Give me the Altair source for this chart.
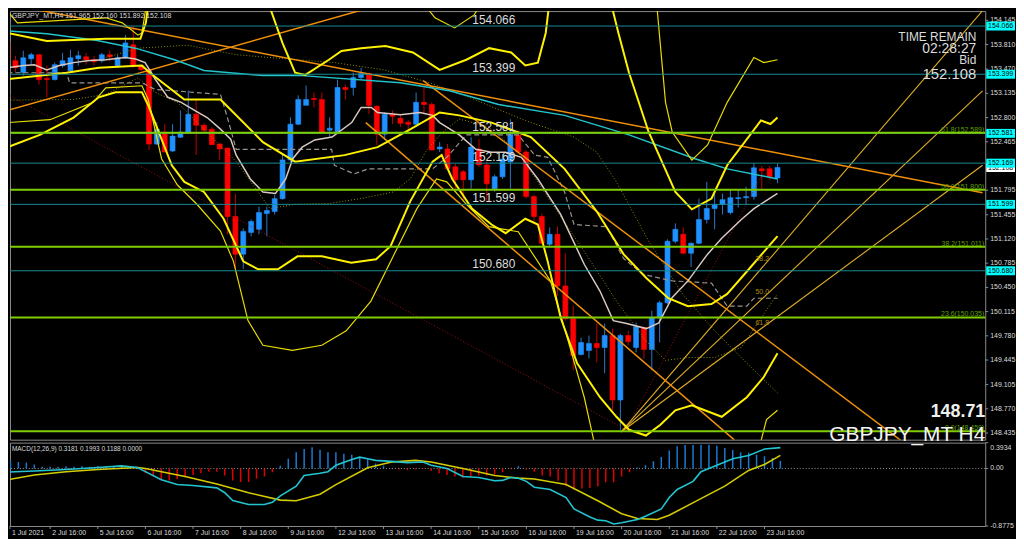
import altair as alt
import pandas as pd

# ---------------- candles (GBPJPY H4, bar index 0..98) ----------------
bar_open = [153.833, 153.586, 153.422, 153.614, 153.669, 153.339, 153.325, 153.518, 153.449, 153.614,
            153.641, 153.600, 153.586, 153.669, 153.518, 153.627, 153.806, 153.518, 153.463, 152.433,
            152.598, 152.337, 152.529, 152.598, 152.845, 152.694, 152.639, 152.433, 152.378, 151.431,
            150.910, 151.211, 151.253, 151.472, 151.500, 151.678, 152.214, 152.708, 152.969, 153.065,
            153.051, 152.625, 152.598, 153.216, 153.216, 153.353, 153.408, 152.955, 152.570, 152.845,
            152.790, 152.735, 152.708, 153.010, 152.982, 152.365, 152.365, 152.118, 152.049, 151.939,
            152.365, 152.145, 151.816, 151.980, 152.186, 152.557, 152.323, 151.706, 151.431, 151.047,
            151.184, 150.470, 150.017, 149.523, 149.578, 149.674, 149.619, 149.784, 148.892, 149.784,
            149.619, 149.894, 149.592, 150.031, 150.237, 151.088, 151.184, 150.923, 151.060, 151.390,
            151.541, 151.596, 151.486, 151.678, 151.692, 151.706, 152.090, 152.090, 151.965]
bar_high = [153.875, 153.655, 153.724, 153.696, 153.682, 153.518, 153.559, 153.696, 153.737, 153.724,
            153.696, 153.655, 153.696, 153.724, 153.669, 153.943, 154.067, 153.531, 153.477, 152.735,
            152.708, 152.708, 152.900, 153.175, 153.051, 152.721, 152.667, 152.447, 152.378, 151.747,
            151.266, 151.390, 151.568, 151.568, 151.733, 152.282, 152.804, 153.106, 153.243, 153.147,
            153.147, 152.804, 153.325, 153.257, 153.422, 153.490, 153.422, 152.969, 152.872, 152.900,
            152.831, 152.763, 153.147, 153.216, 153.010, 152.461, 152.433, 152.159, 152.076, 152.529,
            152.502, 152.186, 152.008, 152.296, 152.776, 152.625, 152.351, 151.733, 151.472, 151.280,
            151.294, 150.923, 150.196, 149.756, 149.784, 149.949, 149.949, 149.880, 149.811, 149.853,
            149.962, 149.907, 150.128, 150.264, 151.115, 151.335, 151.280, 151.074, 151.678, 151.912,
            151.802, 151.747, 151.802, 151.802, 151.843, 152.172, 152.131, 152.131, 152.160]
bar_low = [153.559, 153.422, 153.380, 153.518, 153.257, 153.078, 153.312, 153.490, 153.449, 153.518,
           153.531, 153.518, 153.559, 153.586, 153.490, 153.614, 153.490, 153.449, 152.351, 152.420,
           152.323, 152.323, 152.516, 152.584, 152.282, 152.598, 152.420, 152.214, 151.184, 150.704,
           150.704, 151.156, 151.184, 151.156, 151.459, 151.664, 152.186, 152.694, 152.969, 152.941,
           152.598, 152.529, 152.570, 153.051, 153.106, 153.325, 152.845, 152.420, 152.488, 152.708,
           152.667, 152.598, 152.694, 152.845, 152.351, 152.323, 152.076, 151.816, 151.637, 151.816,
           152.118, 151.637, 151.774, 151.953, 151.816, 152.296, 151.678, 151.363, 151.047, 151.019,
           150.333, 149.990, 149.303, 149.509, 149.468, 149.413, 149.262, 148.754, 148.480, 149.647,
           149.551, 149.468, 149.303, 149.688, 150.223, 151.060, 150.910, 150.731, 151.047, 151.335,
           151.253, 151.459, 151.459, 151.555, 151.596, 151.664, 151.802, 151.939, 151.892]
bar_close = [153.586, 153.490, 153.627, 153.669, 153.325, 153.325, 153.531, 153.586, 153.627, 153.655,
             153.600, 153.573, 153.669, 153.641, 153.627, 153.833, 153.518, 153.463, 152.433, 152.639,
             152.323, 152.543, 152.598, 152.845, 152.694, 152.625, 152.425, 152.365, 151.431, 150.910,
             151.225, 151.363, 151.486, 151.514, 151.678, 152.214, 152.708, 153.051, 153.051, 153.051,
             152.598, 152.653, 153.216, 153.188, 153.353, 153.408, 152.969, 152.570, 152.845, 152.817,
             152.721, 152.708, 153.010, 152.982, 152.351, 152.392, 152.090, 151.939, 151.939, 152.392,
             152.145, 151.884, 151.980, 152.227, 152.570, 152.323, 151.706, 151.431, 151.060, 151.184,
             150.470, 150.017, 149.509, 149.688, 149.674, 149.619, 149.784, 148.892, 149.784, 149.702,
             149.907, 149.592, 150.031, 150.237, 151.088, 151.253, 150.923, 151.060, 151.390, 151.541,
             151.596, 151.664, 151.692, 151.692, 151.706, 152.104, 152.063, 151.980, 152.108]

# ---------------- MACD(12,26,9) ----------------
macd_hist = [0.139, 0.118, 0.097, 0.089, 0.059, 0.025, 0.025, 0.025, 0.035, 0.025,
             0.035, 0.025, 0.035, 0.025, 0.035, 0.039, 0.025, 0.002, -0.075, -0.124,
             -0.173, -0.183, -0.163, -0.124, -0.099, -0.075, -0.049, -0.049, -0.109, -0.183,
             -0.208, -0.208, -0.158, -0.124, -0.059, 0.040, 0.148, 0.247, 0.297, 0.322,
             0.287, 0.247, 0.247, 0.223, 0.208, 0.173, 0.139, 0.075, 0.040, 0.005,
             -0.015, -0.025, -0.015, -0.010, -0.040, -0.075, -0.099, -0.124, -0.139, -0.124,
             -0.109, -0.109, -0.089, -0.059, -0.010, 0.035, -0.015, -0.049, -0.109, -0.124,
             -0.188, -0.272, -0.322, -0.307, -0.297, -0.272, -0.212, -0.212, -0.124, -0.059,
             0.015, 0.049, 0.109, 0.173, 0.272, 0.337, 0.356, 0.356, 0.361, 0.361,
             0.346, 0.311, 0.282, 0.247, 0.238, 0.208, 0.188, 0.160, 0.1188]
macd_x = [0, 4, 8, 12, 15, 17, 18, 20, 22, 24, 27, 28, 29, 31, 33, 34, 35, 37, 38, 40, 41, 42, 44, 45,
          46, 47, 49, 51, 53, 54, 56, 58, 60, 62, 63, 64, 65, 66, 67, 69, 71, 72, 74, 75, 76, 77, 78,
          80, 81, 83, 84, 85, 87, 88, 90, 92, 94, 96, 98]
macd_v = [-0.059, -0.039, -0.015, 0.015, 0.039, 0.015, -0.049, -0.172, -0.246, -0.261, -0.296, -0.37,
          -0.49, -0.55, -0.55, -0.517, -0.419, -0.271, -0.108, -0.074, -0.049, 0.049, 0.138, 0.172,
          0.148, 0.123, 0.108, 0.089, 0.099, 0.049, 0.0, -0.123, -0.138, -0.187, -0.182, -0.138,
          -0.148, -0.197, -0.286, -0.32, -0.443, -0.616, -0.739, -0.788, -0.798, -0.847, -0.828,
          -0.778, -0.729, -0.616, -0.443, -0.32, -0.197, -0.049, 0.049, 0.148, 0.197, 0.296, 0.3181]
signal_x = [0, 4, 8, 12, 17, 18, 23, 27, 31, 35, 37, 40, 42, 46, 49, 52, 54, 58, 62, 65, 67, 71, 75,
            78, 80, 82.5, 84, 87.5, 91, 94, 96, 98]
signal_v = [-0.187, -0.099, -0.049, -0.015, 0.015, 0.0, -0.123, -0.236, -0.37, -0.483, -0.493, -0.394,
            -0.246, 0.01, 0.099, 0.123, 0.099, 0.0, -0.108, -0.148, -0.16, -0.246, -0.493, -0.69,
            -0.764, -0.778, -0.714, -0.49, -0.27, -0.03, 0.06, 0.1993]

# ---------------- indicator traces: (bar index list, price list) ----------------
cyan_ma = ([0, 5, 11.25, 16.25, 21.25, 25, 32.5, 37.5, 50, 56.25, 62.5, 70.9, 79.1, 87.5, 91.6, 98],
           [154.00, 153.96, 153.87, 153.76, 153.60, 153.45, 153.38, 153.38, 153.28, 153.17, 152.98,
            152.83, 152.56, 152.23, 152.09, 151.95])
white_ma = ([0, 2.1, 3.4, 5, 6.6, 8.4, 10.4, 12.5, 15, 16.3, 17.5, 18.8, 20.4, 22.1, 23.8, 25.4, 27.1,
             28.4, 29.1, 30.9, 32.5, 34.1, 35.4, 36.3, 37.5, 39.1, 41.3, 43.8, 45, 46.3, 47.1, 50, 52.5,
             54.1, 55, 57.5, 59.6, 61.6, 63.4, 65.4, 67.5, 70.4, 73.4, 75.4, 77.1, 78.8, 81.3, 82.9,
             84.6, 86.6, 89.1, 90.9, 93.4, 95, 98],
            [153.49, 153.52, 153.53, 153.46, 153.52, 153.56, 153.59, 153.60, 153.63, 153.61, 153.56,
             153.33, 153.08, 153.01, 152.90, 152.80, 152.64, 152.50, 152.28, 151.95, 151.77, 151.75,
             151.95, 152.23, 152.39, 152.49, 152.53, 152.73, 152.94, 152.94, 152.87, 152.84, 152.87,
             152.83, 152.73, 152.56, 152.36, 152.32, 152.32, 152.25, 151.95, 151.46, 150.77, 150.40,
             149.99, 149.95, 149.88, 149.96, 150.31, 150.54, 150.91, 151.13, 151.39, 151.54, 151.75])
bands_thick = {
    "t1": ([0, 5, 12.5, 16.9, 17.6, 18.1],
           [153.97, 153.86, 153.89, 153.89, 154.11, 154.52]),
    "t2": ([32.75, 35, 36.6, 37.9, 40.9, 42.5, 45, 48.1, 51.6, 55, 58.4, 61.3, 64.1, 65.9, 67.5, 68.5, 69.1],
           [154.52, 153.83, 153.42, 153.39, 153.60, 153.72, 153.76, 153.79, 153.70, 153.46, 153.60,
            153.76, 153.70, 153.52, 153.56, 153.97, 154.52]),
    "t3": ([76.5, 77.75, 79.1, 81.6, 85, 87.1, 89.6, 91.6, 95.9, 97.1, 98],
           [154.52, 153.97, 153.42, 152.60, 151.77, 151.53, 151.68, 152.14, 152.76, 152.71, 152.80]),
    "t4": ([0, 7.5, 11.6, 17.1, 18.1, 22.5, 27.1, 32.5, 36.6, 42.9, 47.1, 51.3, 55, 57.5, 61.6, 66.6,
            70.9, 75, 78.4, 81.3, 84.1, 86.6, 89.6, 91.6, 94.1, 98],
           [153.33, 153.42, 153.49, 153.52, 153.42, 153.05, 153.05, 152.46, 152.19, 152.28, 152.39,
            152.64, 152.87, 152.83, 152.73, 152.53, 152.09, 151.50, 150.91, 150.58, 150.30, 150.19,
            150.22, 150.36, 150.67, 151.16]),
    "t5": ([0, 4.1, 8.4, 11.6, 13.75, 17.1, 17.9, 20.9, 22.5, 25, 27.5, 30, 31.9, 34.4, 36.9, 40, 43.75,
            46.9, 48.75, 51.25, 54.1, 55.25, 56.6, 59.1, 61.6, 63.4, 65.9, 67.5, 68.75, 70.4, 72.5, 75.4,
            77.5, 79.1, 81.25, 83.1, 85, 87.1, 90.9, 94.1, 96.25, 98],
           [152.39, 152.56, 152.80, 153.08, 153.15, 153.15, 152.97, 152.14, 151.91, 151.77, 151.40,
            150.81, 150.70, 150.70, 150.88, 150.88, 150.79, 150.84, 151.02, 151.64, 152.19, 152.28,
            151.95, 151.54, 151.32, 151.20, 151.40, 151.32, 150.81, 150.03, 149.40, 148.93, 148.66,
            148.48, 148.40, 148.55, 148.75, 148.82, 148.66, 148.93, 149.21, 149.54]),
}
bands_thin = {
    "u1": ([0, 1.25, 12.5, 14.6, 16.6, 17.1, 17.9],
           [154.27, 154.11, 154.18, 154.11, 153.94, 153.97, 154.52]),
    "u2": ([51.9, 54.4, 56.9, 59.4, 61], [154.52, 154.18, 154.04, 154.22, 154.52]),
    "u3": ([82.5, 83.75, 84.6, 87.1, 89.1, 91.6, 95, 96.25, 98],
           [154.52, 153.01, 152.60, 152.21, 152.42, 153.01, 153.63, 153.56, 153.60]),
    "l1": ([0, 5.4, 10.9, 12.5, 17.1, 17.9, 19.6, 21.6, 24.1, 27.1, 28.75, 30.6, 32.5, 36.25, 40, 43.1,
            46.25, 49.4, 52.1, 54.6, 55.9, 58.4, 61.25, 65, 69.1, 71.25, 73.4, 74.6, 75],
           [152.73, 152.77, 153.01, 153.21, 153.24, 153.05, 152.23, 151.87, 151.60, 151.23, 150.81,
            149.99, 149.65, 149.58, 149.65, 149.85, 150.26, 150.95, 151.54, 151.95, 151.91, 151.60,
            151.29, 151.22, 150.54, 149.75, 148.93, 148.34, 148.07]),
    "l2": ([95.6, 96.6, 98], [148.20, 148.62, 148.75]),
}
gray_step = ([0, 7.5, 7.9, 17.1, 18.75, 27.1, 27.9, 29.1, 41.25, 41.6, 44.1, 45.9, 54.1, 55.9, 58.4, 65,
              67.1, 68.75, 70.9, 72.1, 76.25, 78.4, 80.9, 84.6, 89.6, 91.6, 94.1, 95, 98],
             [153.42, 153.42, 153.28, 153.28, 153.19, 153.12, 152.83, 152.36, 152.36, 152.14, 152.02,
              152.09, 152.09, 152.25, 152.56, 152.56, 152.28, 152.25, 151.77, 151.32, 151.29, 150.85,
              150.63, 150.54, 150.51, 150.19, 150.19, 150.30, 150.30])
olive_dots = {
    "d1": ([12.5, 16.6, 22.9, 29.1, 33.4, 41.6, 47.9, 53.75, 58.75, 62.5, 66.6, 72.1, 75, 77.5, 81.6,
            85.9, 90, 94.1, 98],
           [153.63, 153.76, 153.80, 153.67, 153.63, 153.56, 153.46, 153.28, 153.08, 152.91, 152.73,
            152.53, 152.32, 151.91, 151.09, 150.36, 149.85, 149.40, 148.99]),
    "d2": ([0, 8.4, 12.5, 16.6, 18.75, 21.6, 29.1, 33.4, 36.6, 40.9, 45, 49.1, 51.25, 53.4, 55.4, 57.5,
            61.25, 65, 69.1, 73.4, 77.5, 81.25, 83.75, 86.6, 90, 93.4, 98],
           [153.04, 153.05, 153.12, 153.35, 153.15, 153.01, 152.19, 151.54, 151.60, 151.61, 151.68,
            151.77, 151.95, 152.36, 152.60, 152.78, 152.67, 152.32, 151.64, 150.95, 150.26, 149.71,
            149.44, 149.48, 149.48, 149.62, 150.36]),
}
trend_orange = {
    "o1": ([0, 52], [152.90, 154.50]),
    "o2": ([0, 124.1], [154.37, 151.76]),
    "o3": ([52.9, 114.1], [153.31, 148.30]),
    "o4": ([45.6, 92.5], [152.73, 148.34]),
}
trend_red = {
    "r1": ([0, 78.75], [153.12, 148.48]),
    "r2": ([78.75, 96.25], [148.48, 152.05]),
}
fan_lines = {
    "f1": ([78.1, 124.9], [148.45, 154.38]),
    "f2": ([78.1, 124.1], [148.45, 153.17]),
    "f3": ([78.1, 124.1], [148.45, 152.14]),
}

level_prices = [154.066, 153.399, 152.581, 152.169, 151.599, 150.680]
fib_prices = [152.589, 151.800, 151.011, 150.035, 148.459]
fib_texts = ["61.8(152.589)", "50.0(151.800)", "38.2(151.011)", "23.6(150.035)", "0.0(148.459)"]
fan_text = ["38.2", "50.0", "61.8"]
fan_text_x = [95.2, 95.2, 95.2]
fan_text_p = [150.84, 150.39, 149.96]
bid_price = 152.108

axis_prices = [154.145, 153.810, 153.470, 153.135, 152.800, 152.465, 151.795, 151.455,
               151.120, 150.785, 150.450, 150.115, 149.780, 149.445, 149.105, 148.770, 148.435]
date_labels = ["1 Jul 2021", "2 Jul 16:00", "5 Jul 16:00", "6 Jul 16:00", "7 Jul 16:00", "8 Jul 16:00",
               "9 Jul 16:00", "12 Jul 16:00", "13 Jul 16:00", "14 Jul 16:00", "15 Jul 16:00",
               "16 Jul 16:00", "19 Jul 16:00", "20 Jul 16:00", "21 Jul 16:00", "22 Jul 16:00",
               "23 Jul 16:00"]
date_ticks = [0.9375, 6, 12, 18, 24, 30, 36, 42, 48, 54, 60, 66, 72, 78, 84, 90, 96]
macd_axis_values = [0.3934, 0.0, -0.8775]
macd_axis_texts = ["0.3934", "0.00", "-0.8775"]

# ---------------- layout / style ----------------
W = 983
H_MAIN = 432
H_MACD = 84
X0 = 0.9375
PX_PER_YEN = 72.85
P_BOTTOM = 148.343
MACD_DOMAIN = [-0.8775, 0.3934]

BULL, BEAR = "#1E90FF", "#FF0000"
BULL_WICK, BEAR_WICK = "#2A78C8", "#C00000"
AXIS = "#8C8C8C"
TEXT = "#DCDCDC"
FONT = "Liberation Sans"

XS = alt.Scale(domain=[X0, X0 + W / 8], nice=False, zero=False)
PS = alt.Scale(domain=[P_BOTTOM, P_BOTTOM + H_MAIN / PX_PER_YEN], nice=False, zero=False)
MS = alt.Scale(domain=MACD_DOMAIN, nice=False, zero=False)


def xq(field="x"):
    return alt.X(f"{field}:Q", scale=XS, axis=None)


def yq(field="p", scale=PS):
    return alt.Y(f"{field}:Q", scale=scale, axis=None)


def traces_df(traces):
    rows = []
    for name, (xs, ps) in traces.items():
        for i, (x, p) in enumerate(zip(xs, ps)):
            rows.append({"s": name, "o": i, "x": x, "p": p})
    return pd.DataFrame(rows)


def line_layer(traces, color, width, dash=None, opacity=1.0, yscale=PS):
    kw = dict(color=color, strokeWidth=width, clip=True, opacity=opacity)
    if dash:
        kw["strokeDash"] = dash
    return alt.Chart(traces_df(traces)).mark_line(**kw).encode(
        x=xq(), y=yq(scale=yscale), detail="s:N", order="o:Q")


def label(text, x, y, size, align="left", baseline="alphabetic", weight="normal", color=TEXT):
    return alt.Chart(pd.DataFrame({"t": [text]})).mark_text(
        align=align, baseline=baseline, fontSize=size, font=FONT, color=color, fontWeight=weight
    ).encode(x=alt.value(x), y=alt.value(y), text="t:N")


up = alt.datum.close >= alt.datum.open
candles = pd.DataFrame({"k": list(range(len(bar_open))), "open": bar_open, "high": bar_high,
                        "low": bar_low, "close": bar_close})

wicks = alt.Chart(candles).mark_rule(strokeWidth=1, clip=True).encode(
    x=xq("k"), y=yq("low"), y2="high:Q",
    color=alt.when(up).then(alt.value(BULL_WICK)).otherwise(alt.value(BEAR_WICK)))
bodies = alt.Chart(candles).mark_bar(size=5, clip=True, strokeWidth=0.6).encode(
    x=xq("k"), y=yq("open"), y2="close:Q",
    color=alt.when(up).then(alt.value(BULL)).otherwise(alt.value(BEAR)),
    stroke=alt.when(up).then(alt.value(BULL)).otherwise(alt.value(BEAR)))

levels_df = pd.DataFrame({"p": level_prices, "t": [f"{v:.3f}" for v in level_prices]})
fib_df = pd.DataFrame({"p": fib_prices, "t": fib_texts})

level_rules = alt.Chart(levels_df).mark_rule(color="#178C92", strokeWidth=1).encode(y=yq())
fib_rules = alt.Chart(fib_df).mark_rule(color="#7FCC00", strokeWidth=2).encode(y=yq())

level_texts = alt.Chart(levels_df).mark_text(
    align="left", baseline="alphabetic", dy=-2.5, fontSize=12, font=FONT, color=TEXT
).encode(x=alt.value(466), y=yq(), text="t:N")
fib_texts_layer = alt.Chart(fib_df).mark_text(
    align="right", baseline="alphabetic", dy=-1, fontSize=7, font=FONT, color="#5FA000"
).encode(x=alt.value(W - 1), y=yq(), text="t:N")
fan_df = pd.DataFrame({"x": fan_text_x, "p": fan_text_p, "t": fan_text})
fan_texts = alt.Chart(fan_df).mark_text(
    align="left", baseline="middle", fontSize=7, font=FONT, color="#B08A10"
).encode(x=xq(), y=yq(), text="t:N")

# right price scale drawn from the tick list
ticks_df = pd.DataFrame({"p": axis_prices, "t": [f"{v:.3f}" for v in axis_prices]})
price_ticks = alt.Chart(ticks_df).mark_rule(color=AXIS).encode(
    x=alt.value(W), x2=alt.value(W + 3), y=yq())
price_labels = alt.Chart(ticks_df).mark_text(
    align="left", baseline="middle", fontSize=7, font=FONT, color=TEXT
).encode(x=alt.value(W + 5), y=yq(), text="t:N")

BOX_HALF = 4.5 / PX_PER_YEN
bid_df = pd.DataFrame({"p": [bid_price], "t": [f"{bid_price:.3f}"]})


def price_box(df, fill):
    rect = alt.Chart(df).transform_calculate(
        lo=f"datum.p - {BOX_HALF}", hi=f"datum.p + {BOX_HALF}"
    ).mark_rect(color=fill).encode(
        x=alt.value(W + 1), x2=alt.value(W + 30), y=yq("lo"), y2="hi:Q")
    txt = alt.Chart(df).mark_text(
        align="center", baseline="middle", fontSize=7, font=FONT, color="#000000"
    ).encode(x=alt.value(W + 15.5), y=yq(), text="t:N")
    return rect + txt


main = alt.layer(
    wicks, bodies,
    line_layer(olive_dots, "#8F8F00", 1, dash=[1, 2]),
    line_layer({"g": gray_step}, "#9A928C", 1.2, dash=[5, 3]),
    line_layer(trend_red, "#9A1010", 1, dash=[1, 2]),
    line_layer(fan_lines, "#E0AE28", 1.1),
    line_layer(trend_orange, "#F0900A", 1.5),
    line_layer({"c": cyan_ma}, "#22C4CC", 1.5),
    line_layer({"w": white_ma}, "#D8C8C0", 1.5),
    line_layer(bands_thin, "#E8DC00", 1.2),
    line_layer(bands_thick, "#FFF200", 2),
    level_rules, fib_rules,
    price_ticks, price_labels,
    level_texts, fib_texts_layer, fan_texts,
    price_box(bid_df, "#FFFFFF"), price_box(levels_df, "#00FFFF"),
    label("GBPJPY_MT,H4 151.965 152.160 151.892 152.108", 2, 1, 7, baseline="top"),
    label("TIME REMAIN", 974, 30, 12, align="right"),
    label("02:28:27", 974, 42, 14, align="right"),
    label("Bid", 974, 53, 12, align="right"),
    label("152.108", 974, 68, 15, align="right"),
    label("148.71", W, 409, 18, align="right", weight="bold", color="#F0F0F0"),
    label("GBPJPY_MT H4", W, 433, 21, align="right", color="#F4F4F4"),
).properties(width=W, height=H_MAIN)

# ---------------- MACD panel ----------------
hist_df = pd.DataFrame({"k": list(range(len(macd_hist))), "v": macd_hist})
hist = alt.Chart(hist_df).mark_rule(strokeWidth=1.5, clip=True).encode(
    x=xq("k"), y=yq("v", MS), y2=alt.datum(0),
    color=alt.when(alt.datum.v >= 0).then(alt.value("#1E78D0")).otherwise(alt.value("#E00000")))
zero = alt.Chart(pd.DataFrame({"z": [0]})).mark_rule(color="#9A9A9A", strokeDash=[1, 2]).encode(
    y=yq("z", MS))
macd_line = line_layer({"m": (macd_x, macd_v)}, "#22C4D0", 1.6, yscale=MS)
signal_line = line_layer({"s": (signal_x, signal_v)}, "#D4CC00", 1.6, yscale=MS)

maxis_df = pd.DataFrame({"p": macd_axis_values, "t": macd_axis_texts})
macd_ticks = alt.Chart(maxis_df).mark_rule(color=AXIS).encode(
    x=alt.value(W), x2=alt.value(W + 3), y=yq(scale=MS))
macd_top = alt.Chart(maxis_df.iloc[:1]).mark_text(
    align="left", baseline="top", dy=1, fontSize=7, font=FONT, color=TEXT
).encode(x=alt.value(W + 5), y=yq(scale=MS), text="t:N")
macd_rest = alt.Chart(maxis_df.iloc[1:]).mark_text(
    align="left", baseline="middle", fontSize=7, font=FONT, color=TEXT
).encode(x=alt.value(W + 5), y=yq(scale=MS), text="t:N")

dates_df = pd.DataFrame({"x": date_ticks, "t": date_labels})
date_tick_marks = alt.Chart(dates_df).mark_rule(color=AXIS).encode(
    x=xq(), y=alt.value(H_MACD), y2=alt.value(H_MACD + 3))
date_texts = alt.Chart(dates_df).mark_text(
    align="left", baseline="top", dx=2, fontSize=7, font=FONT, color=TEXT
).encode(x=xq(), y=alt.value(H_MACD + 3), text="t:N")

macd = alt.layer(
    zero, hist, signal_line, macd_line, macd_ticks, macd_top, macd_rest,
    date_tick_marks, date_texts,
    label("MACD(12,26,9) 0.3181 0.1993 0.1188 0.0000", 2, 3, 6.5, baseline="top"),
).properties(width=W, height=H_MACD)

chart = alt.vconcat(main, macd, spacing=3, bounds="flush").properties(
    background="#000000", padding={"left": 0, "top": 0, "right": 0, "bottom": 0}
).configure_view(stroke=AXIS, strokeWidth=1)

chart.save("out.html", embed_options={"renderer": "svg", "actions": False})
